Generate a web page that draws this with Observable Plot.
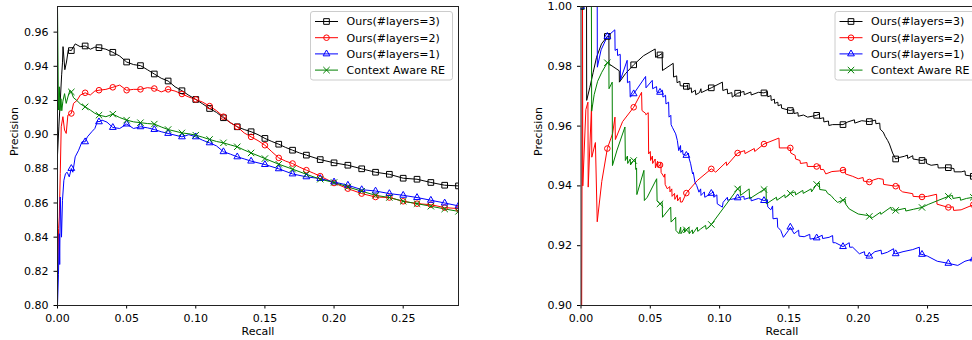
<!DOCTYPE html>
<html><head><meta charset="utf-8">
<script src="https://cdn.jsdelivr.net/npm/d3@7"></script>
<script src="https://cdn.jsdelivr.net/npm/@observablehq/plot@0.6"></script>
<style>
html,body{margin:0;padding:0;background:#fff;}
#wrap{position:relative;width:972px;height:340px;overflow:hidden;background:#fff;}
#left{position:absolute;left:0;top:0;width:486px;height:340px;}
#right{position:absolute;left:486px;top:0;width:500px;height:340px;}
#wrap svg{max-width:none !important;}
</style></head>
<body><div id="wrap"><div id="left"></div><div id="right"></div></div>
<script>
const seriesNames = ["Ours(#layers=3)", "Ours(#layers=2)", "Ours(#layers=1)", "Context Aware RE"];
const seriesColors = ["#000000", "#ff0000", "#0000ff", "#008000"];
const seriesSymbols = ["square", "circle", "triangle", "times"];
const seriesMarkerR = [3.2, 2.8, 2.5, 3.0];
const xTicks = [0, 0.05, 0.10, 0.15, 0.20, 0.25];
const leftYTicks = [0.80, 0.82, 0.84, 0.86, 0.88, 0.90, 0.92, 0.94, 0.96];
const rightYTicks = [0.90, 0.92, 0.94, 0.96, 0.98, 1.00];
const leftYDomain = [0.80, 0.975];
const rightYDomain = [0.90, 1.00];
const recallDomain = [0, 0.29];

// ---- left panel: [recall, precision]
const leftL3 = [[0,0.888],[0.001,0.905],[0.002,0.920],[0.003,0.935],[0.0036,0.942],[0.004,0.9515],[0.0053,0.938],[0.0065,0.9425],[0.0078,0.9496],[0.01,0.9492],[0.0128,0.9531],[0.0164,0.9515],[0.02,0.9519],[0.0238,0.950],[0.027,0.9512],[0.03,0.9509],[0.035,0.950],[0.04,0.9482],[0.045,0.946],[0.05,0.9425],[0.055,0.941],[0.06,0.9404],[0.065,0.938],[0.07,0.9355],[0.075,0.933],[0.08,0.9314],[0.085,0.928],[0.09,0.9257],[0.095,0.923],[0.10,0.9206],[0.105,0.918],[0.11,0.9153],[0.115,0.913],[0.12,0.9099],[0.125,0.907],[0.13,0.9046],[0.135,0.903],[0.14,0.9017],[0.145,0.900],[0.15,0.8978],[0.155,0.896],[0.16,0.8944],[0.165,0.8925],[0.17,0.8909],[0.175,0.8893],[0.18,0.888],[0.19,0.8854],[0.20,0.8835],[0.21,0.8821],[0.22,0.880],[0.23,0.878],[0.24,0.8768],[0.25,0.8745],[0.26,0.8739],[0.27,0.872],[0.28,0.8704],[0.29,0.870]];
const leftL2 = [[0.0002,0.818],[0.0008,0.845],[0.0013,0.8518],[0.002,0.8774],[0.0027,0.9046],[0.0039,0.9105],[0.0051,0.9027],[0.0063,0.9007],[0.0075,0.9114],[0.01,0.9124],[0.0116,0.9183],[0.0141,0.920],[0.0165,0.9232],[0.02,0.9245],[0.0237,0.9232],[0.027,0.9255],[0.03,0.926],[0.035,0.9265],[0.04,0.9277],[0.045,0.929],[0.05,0.926],[0.055,0.9265],[0.06,0.9265],[0.065,0.9275],[0.07,0.927],[0.075,0.925],[0.08,0.9265],[0.085,0.9255],[0.09,0.9238],[0.095,0.922],[0.10,0.9206],[0.105,0.919],[0.11,0.9167],[0.115,0.914],[0.12,0.9105],[0.125,0.907],[0.13,0.9046],[0.135,0.901],[0.14,0.8987],[0.145,0.8965],[0.15,0.8938],[0.155,0.890],[0.16,0.8864],[0.165,0.8845],[0.17,0.8831],[0.175,0.881],[0.18,0.8792],[0.185,0.8775],[0.19,0.8757],[0.20,0.8717],[0.21,0.8684],[0.22,0.8655],[0.23,0.8635],[0.24,0.8632],[0.25,0.861],[0.26,0.8596],[0.27,0.859],[0.28,0.8573],[0.29,0.8567]];
const leftL1 = [[0,0.80],[0.0007,0.818],[0.0013,0.842],[0.0016,0.824],[0.002,0.8635],[0.0029,0.84],[0.0036,0.8616],[0.0046,0.8733],[0.0058,0.8772],[0.007,0.878],[0.0085,0.8753],[0.01,0.8802],[0.0111,0.878],[0.0128,0.887],[0.0153,0.8909],[0.0177,0.8958],[0.02,0.8958],[0.0216,0.8987],[0.0248,0.9017],[0.027,0.9036],[0.029,0.908],[0.03,0.9075],[0.0322,0.9085],[0.0358,0.9073],[0.04,0.9042],[0.045,0.9036],[0.05,0.9062],[0.055,0.9036],[0.06,0.9046],[0.065,0.904],[0.07,0.903],[0.075,0.9017],[0.08,0.9007],[0.085,0.8997],[0.09,0.8987],[0.095,0.900],[0.10,0.8987],[0.105,0.8967],[0.11,0.8952],[0.115,0.8934],[0.12,0.890],[0.125,0.8886],[0.13,0.887],[0.135,0.8858],[0.14,0.8845],[0.15,0.8825],[0.16,0.880],[0.17,0.877],[0.18,0.8753],[0.19,0.8743],[0.20,0.8723],[0.21,0.8704],[0.22,0.8678],[0.23,0.867],[0.24,0.8655],[0.25,0.8645],[0.26,0.8632],[0.27,0.8616],[0.28,0.860],[0.29,0.8583]];
const leftCARE = [[0,0.975],[0.0007,0.9144],[0.0013,0.928],[0.0018,0.914],[0.0025,0.921],[0.0031,0.914],[0.0039,0.9196],[0.0051,0.924],[0.0063,0.9183],[0.0075,0.922],[0.009,0.926],[0.01,0.925],[0.0116,0.9216],[0.014,0.920],[0.0165,0.918],[0.02,0.9163],[0.0237,0.9144],[0.027,0.9125],[0.03,0.9114],[0.035,0.9105],[0.04,0.912],[0.045,0.910],[0.05,0.9085],[0.055,0.9075],[0.06,0.907],[0.065,0.9065],[0.07,0.9062],[0.075,0.9045],[0.08,0.903],[0.085,0.902],[0.09,0.901],[0.095,0.9005],[0.10,0.8997],[0.105,0.8985],[0.11,0.8972],[0.115,0.896],[0.12,0.8952],[0.125,0.894],[0.13,0.8929],[0.135,0.891],[0.14,0.8893],[0.145,0.8877],[0.15,0.886],[0.16,0.8827],[0.17,0.8798],[0.18,0.8768],[0.19,0.8739],[0.20,0.872],[0.21,0.8694],[0.22,0.8669],[0.23,0.8645],[0.24,0.8632],[0.25,0.861],[0.26,0.8596],[0.27,0.8581],[0.28,0.8565],[0.29,0.8551]];
const leftMarkRecall = [0.01,0.02,0.03,0.04,0.05,0.06,0.07,0.08,0.09,0.10,0.11,0.12,0.13,0.14,0.15,0.16,0.17,0.18,0.19,0.20,0.21,0.22,0.23,0.24,0.25,0.26,0.27,0.28,0.29];

// ---- right panel: [recall, precision]
const rightL3 = [[0,1.0],[0.004,1.0],[0.0041,0.9686],[0.0064,0.973],[0.0088,0.978],[0.0112,0.983],[0.0148,0.9875],[0.019,0.990],[0.0201,0.990],[0.0202,0.9808],[0.0276,0.9785],[0.0277,0.9747],[0.032,0.9775],[0.038,0.9805],[0.045,0.9835],[0.0535,0.9858],[0.0538,0.983],[0.057,0.9838],[0.0585,0.9843],[0.0588,0.9786],[0.0665,0.981],[0.0668,0.9764],[0.069,0.9768],[0.0693,0.9745],[0.0713,0.975],[0.0716,0.9735],[0.076,0.9733],[0.0768,0.9738],[0.077,0.9722],[0.0795,0.9728],[0.0798,0.9712],[0.0825,0.972],[0.0828,0.9705],[0.0855,0.9712],[0.0865,0.9725],[0.0868,0.9712],[0.094,0.9728],[0.102,0.9747],[0.1023,0.9719],[0.1055,0.9724],[0.1058,0.9708],[0.1088,0.9712],[0.1091,0.9697],[0.113,0.971],[0.1175,0.9716],[0.1178,0.9705],[0.1225,0.9714],[0.1228,0.9704],[0.128,0.9713],[0.132,0.9711],[0.1345,0.9716],[0.1347,0.9698],[0.137,0.9702],[0.1372,0.9686],[0.1395,0.969],[0.1397,0.9676],[0.142,0.968],[0.1422,0.9668],[0.1445,0.9672],[0.1447,0.966],[0.151,0.9652],[0.1535,0.9656],[0.1537,0.9642],[0.1565,0.9645],[0.1567,0.9633],[0.1605,0.9637],[0.1635,0.963],[0.170,0.9636],[0.172,0.9641],[0.1722,0.9625],[0.175,0.9628],[0.1752,0.9614],[0.1785,0.9617],[0.1788,0.9602],[0.1815,0.9605],[0.189,0.9605],[0.1925,0.9614],[0.1972,0.9621],[0.1975,0.961],[0.2025,0.9618],[0.208,0.9615],[0.2125,0.962],[0.2127,0.9608],[0.2155,0.961],[0.2158,0.959],[0.218,0.958],[0.2195,0.9565],[0.2212,0.9552],[0.2225,0.954],[0.2248,0.951],[0.227,0.949],[0.2295,0.9495],[0.2333,0.9499],[0.2355,0.9503],[0.2357,0.9492],[0.2393,0.9501],[0.2395,0.949],[0.246,0.9485],[0.249,0.949],[0.2493,0.9475],[0.2526,0.9469],[0.2574,0.9472],[0.2577,0.946],[0.265,0.9461],[0.269,0.9458],[0.2693,0.9447],[0.2743,0.9447],[0.277,0.945],[0.2773,0.9436],[0.283,0.9432],[0.29,0.942]];
const rightL2 = [[0.0004,0.885],[0.0011,1.0],[0.0013,0.94],[0.0035,0.9655],[0.005,0.968],[0.0052,0.9396],[0.0076,0.967],[0.0078,0.9496],[0.0104,0.9545],[0.0117,0.928],[0.015,0.9415],[0.019,0.9525],[0.0228,0.9575],[0.0245,0.963],[0.0248,0.9555],[0.030,0.9615],[0.038,0.9663],[0.0437,0.9713],[0.044,0.9652],[0.0465,0.9643],[0.0468,0.9638],[0.0485,0.9645],[0.0488,0.9507],[0.050,0.9515],[0.0502,0.9485],[0.0515,0.950],[0.0517,0.9475],[0.0535,0.949],[0.0537,0.946],[0.0553,0.9483],[0.0556,0.9462],[0.057,0.947],[0.0576,0.9478],[0.0578,0.9445],[0.060,0.9429],[0.0605,0.944],[0.0607,0.9405],[0.0623,0.939],[0.064,0.9398],[0.0642,0.938],[0.0655,0.939],[0.0657,0.9365],[0.0675,0.9375],[0.0677,0.9355],[0.0695,0.937],[0.0697,0.935],[0.0715,0.9362],[0.0717,0.9346],[0.073,0.9346],[0.076,0.9376],[0.0839,0.9418],[0.094,0.9457],[0.0972,0.9446],[0.1048,0.948],[0.1051,0.9468],[0.113,0.951],[0.118,0.9518],[0.1183,0.9508],[0.125,0.9525],[0.1253,0.9515],[0.132,0.954],[0.1428,0.956],[0.1431,0.9527],[0.151,0.9527],[0.1513,0.951],[0.1545,0.9502],[0.1548,0.949],[0.158,0.9485],[0.1583,0.9475],[0.163,0.9478],[0.1633,0.9465],[0.170,0.9465],[0.1725,0.947],[0.1728,0.9455],[0.175,0.9455],[0.1766,0.944],[0.181,0.9448],[0.1864,0.945],[0.189,0.9453],[0.1905,0.9455],[0.1908,0.944],[0.196,0.9432],[0.200,0.9424],[0.2035,0.9428],[0.2038,0.9416],[0.208,0.9413],[0.211,0.942],[0.2145,0.9425],[0.218,0.9422],[0.2183,0.9405],[0.227,0.9399],[0.2295,0.9402],[0.2298,0.9388],[0.232,0.938],[0.2393,0.9374],[0.2396,0.9365],[0.246,0.9363],[0.250,0.9365],[0.2565,0.9372],[0.2568,0.9339],[0.265,0.9328],[0.2685,0.933],[0.2688,0.9318],[0.2742,0.932],[0.283,0.9337],[0.29,0.935]];
const rightL1 = [[0,1.0],[0.0117,1.0],[0.0118,0.9797],[0.0145,0.9855],[0.019,0.990],[0.0244,0.9922],[0.0246,0.9853],[0.0262,0.9858],[0.0264,0.9836],[0.0283,0.984],[0.0285,0.9755],[0.0333,0.982],[0.0335,0.9745],[0.0352,0.975],[0.0355,0.9697],[0.038,0.9708],[0.0466,0.9766],[0.0469,0.9728],[0.0514,0.9753],[0.0517,0.9725],[0.0545,0.9732],[0.0548,0.9713],[0.057,0.9713],[0.0588,0.972],[0.0591,0.9697],[0.061,0.9703],[0.0613,0.9674],[0.0632,0.968],[0.0635,0.963],[0.0648,0.9636],[0.065,0.9605],[0.0659,0.9596],[0.0683,0.9574],[0.0695,0.9552],[0.0705,0.9518],[0.0718,0.9535],[0.072,0.9512],[0.0733,0.952],[0.0736,0.9505],[0.076,0.9502],[0.0775,0.951],[0.0778,0.9495],[0.0791,0.9474],[0.0805,0.944],[0.081,0.9445],[0.0822,0.9412],[0.0835,0.9401],[0.0851,0.9379],[0.0863,0.939],[0.0866,0.9368],[0.089,0.938],[0.0893,0.9362],[0.094,0.9375],[0.0955,0.938],[0.0958,0.9362],[0.098,0.937],[0.0983,0.934],[0.102,0.9329],[0.1025,0.9345],[0.1056,0.9362],[0.1058,0.9352],[0.108,0.9355],[0.1104,0.9357],[0.113,0.936],[0.1175,0.9365],[0.1178,0.9355],[0.1225,0.9362],[0.1228,0.935],[0.128,0.9358],[0.132,0.9351],[0.1345,0.9354],[0.1347,0.933],[0.1369,0.932],[0.1382,0.9333],[0.1385,0.929],[0.1416,0.9292],[0.1419,0.9262],[0.1441,0.9251],[0.146,0.9228],[0.1495,0.925],[0.151,0.9262],[0.1537,0.924],[0.157,0.9252],[0.1573,0.9232],[0.161,0.923],[0.165,0.9238],[0.1653,0.9222],[0.170,0.9226],[0.174,0.9235],[0.1743,0.9224],[0.179,0.9228],[0.1815,0.9234],[0.1818,0.921],[0.1835,0.921],[0.189,0.9197],[0.1935,0.921],[0.1938,0.9195],[0.196,0.9195],[0.2008,0.9173],[0.2045,0.918],[0.2048,0.9168],[0.208,0.9165],[0.212,0.918],[0.2165,0.9185],[0.2168,0.9172],[0.221,0.9178],[0.2255,0.919],[0.2258,0.9175],[0.227,0.9173],[0.2323,0.918],[0.2393,0.9187],[0.2441,0.9195],[0.2443,0.9172],[0.246,0.9171],[0.250,0.9165],[0.257,0.9148],[0.265,0.9141],[0.2718,0.9134],[0.277,0.9148],[0.283,0.9156],[0.29,0.917]];
const rightCARE = [[0,1.0],[0.0075,1.0],[0.0077,0.965],[0.0095,0.9705],[0.012,0.975],[0.015,0.978],[0.019,0.9812],[0.0201,0.9815],[0.0202,0.9725],[0.0225,0.9747],[0.0227,0.9468],[0.026,0.952],[0.0317,0.9597],[0.032,0.9485],[0.0335,0.950],[0.0337,0.9475],[0.0355,0.949],[0.0357,0.947],[0.038,0.9485],[0.0392,0.949],[0.0395,0.9455],[0.0401,0.946],[0.0403,0.9371],[0.0454,0.9452],[0.0457,0.9351],[0.0478,0.9362],[0.0546,0.9424],[0.0549,0.9351],[0.057,0.934],[0.0586,0.9345],[0.0588,0.9295],[0.0647,0.9329],[0.065,0.9279],[0.0683,0.9295],[0.0685,0.9251],[0.0707,0.924],[0.0719,0.9262],[0.0721,0.924],[0.0745,0.9258],[0.0748,0.9245],[0.076,0.9253],[0.0779,0.9262],[0.0781,0.924],[0.0803,0.9253],[0.0806,0.924],[0.0839,0.9262],[0.0842,0.9248],[0.0863,0.9256],[0.0899,0.9268],[0.0902,0.9255],[0.0924,0.9262],[0.094,0.9271],[0.113,0.939],[0.1148,0.9398],[0.115,0.9368],[0.1213,0.939],[0.1216,0.9357],[0.132,0.9388],[0.1335,0.9392],[0.1337,0.934],[0.141,0.9362],[0.1413,0.9352],[0.147,0.937],[0.1473,0.936],[0.151,0.9375],[0.1545,0.938],[0.1548,0.937],[0.160,0.9385],[0.1603,0.9375],[0.166,0.939],[0.1663,0.938],[0.170,0.9405],[0.1719,0.941],[0.1722,0.9388],[0.1767,0.9385],[0.1779,0.9375],[0.1803,0.9368],[0.1827,0.9355],[0.1851,0.9345],[0.189,0.9352],[0.1905,0.9356],[0.1908,0.934],[0.1935,0.9323],[0.200,0.9306],[0.2068,0.9301],[0.208,0.9298],[0.2104,0.9294],[0.216,0.9312],[0.2163,0.9305],[0.2236,0.9329],[0.2239,0.932],[0.227,0.9318],[0.234,0.9325],[0.2343,0.9316],[0.240,0.9322],[0.246,0.9328],[0.2505,0.9338],[0.2574,0.9351],[0.265,0.9365],[0.268,0.9368],[0.2683,0.9358],[0.2735,0.9362],[0.2738,0.9352],[0.278,0.9358],[0.283,0.9362],[0.29,0.9365]];
const rightMarkRecall = [0, 0.019, 0.038, 0.057, 0.076, 0.094, 0.113, 0.132, 0.151, 0.170, 0.189, 0.208, 0.227, 0.246, 0.265, 0.283];

const FONT = "'DejaVu Sans', sans-serif";

function makePanel(series, markRecall, yDomain, yTicks, width, marginLeft, marginRight) {
  const marks = [];
  series.forEach((s, i) => {
    const pts = s.map(([r, p]) => ({r, p}));
    marks.push(Plot.line(pts, {x: "r", y: "p", stroke: seriesColors[i], strokeWidth: 1, clip: true}));
  });
  series.forEach((s, i) => {
    const pts = s.filter(([r]) => markRecall.some(m => Math.abs(m - r) < 1e-9)).map(([r, p]) => ({r, p}));
    marks.push(Plot.dot(pts, {x: "r", y: "p", symbol: seriesSymbols[i], r: seriesMarkerR[i],
      stroke: seriesColors[i], fill: "none", strokeWidth: 1, clip: true}));
  });
  marks.push(Plot.frame({stroke: "#222", strokeWidth: 1}));
  marks.push(Plot.text(["Recall"], {text: d => d, frameAnchor: "bottom", dy: 29, fontSize: 11, fill: "#000"}));
  marks.push(Plot.text(["Precision"], {text: d => d, frameAnchor: "left", dx: -43, rotate: -90, fontSize: 11, fill: "#000"}));
  const chart = Plot.plot({
    width, height: 340, marginLeft, marginRight, marginTop: 6, marginBottom: 35,
    style: {fontFamily: FONT, fontSize: "11px", color: "#000", background: "transparent", overflow: "visible", maxWidth: "none"},
    x: {domain: recallDomain, ticks: xTicks, tickFormat: d3.format(".2f"), tickSize: 3.5, label: null},
    y: {domain: yDomain, ticks: yTicks, tickFormat: d3.format(".2f"), tickSize: 3.5, label: null},
    marks
  });
  // legend
  const xr = chart.scale("x").range, yr = chart.scale("y").range;
  const right = Math.max(...xr), top = Math.min(...yr);
  const bx = right - 147.5, by = top + 5.5;
  const svg = d3.select(chart);
  const g = svg.append("g").attr("class", "legend").attr("text-anchor", "start");
  g.append("rect").attr("x", bx).attr("y", by).attr("width", 142).attr("height", 68.5)
    .attr("rx", 2.5).attr("fill", "#fff").attr("fill-opacity", 0.85).attr("stroke", "#cccccc").attr("stroke-width", 1);
  const symMap = {square: d3.symbolSquare, circle: d3.symbolCircle, triangle: d3.symbolTriangle, times: d3.symbolTimes};
  seriesNames.forEach((name, i) => {
    const yy = by + 10 + 16.2 * i;
    g.append("line").attr("x1", bx + 4.5).attr("x2", bx + 27.5).attr("y1", yy).attr("y2", yy)
      .attr("stroke", seriesColors[i]).attr("stroke-width", 1);
    g.append("path").attr("transform", `translate(${bx + 16},${yy})`)
      .attr("d", d3.symbol(symMap[seriesSymbols[i]], Math.PI * seriesMarkerR[i] ** 2)())
      .attr("fill", "none").attr("stroke", seriesColors[i]).attr("stroke-width", 1);
    g.append("text").attr("x", bx + 36).attr("y", yy).attr("dy", "0.35em").attr("text-anchor", "start")
      .attr("font-family", FONT).attr("font-size", 11).attr("fill", "#000").text(name);
  });
  return chart;
}

document.getElementById("left").appendChild(
  makePanel([leftL3, leftL2, leftL1, leftCARE], leftMarkRecall, leftYDomain, leftYTicks, 486, 57, 28));
document.getElementById("right").appendChild(
  makePanel([rightL3, rightL2, rightL1, rightCARE], rightMarkRecall, rightYDomain, rightYTicks, 500, 94.5, 3.5));
</script>
</body></html>
